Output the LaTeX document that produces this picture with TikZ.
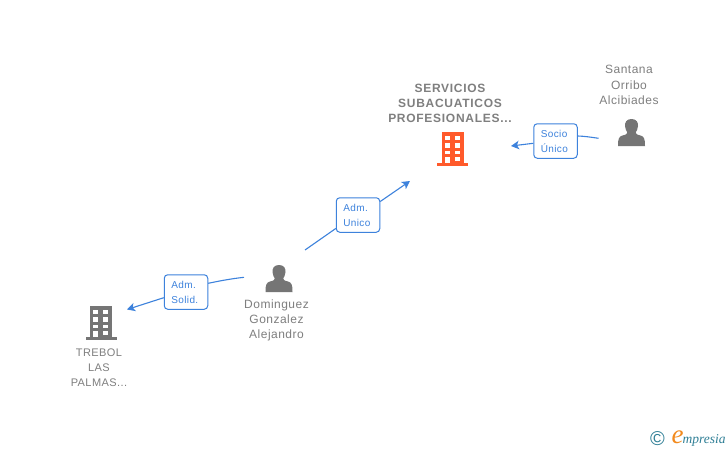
\documentclass[tikz,border=0pt]{standalone}
\usepackage{fontspec}
\setmainfont{Liberation Sans}
\newfontfamily\boldspaced[LetterSpace=6]{Liberation Sans}
\newfontfamily\spaced[LetterSpace=4]{Liberation Sans}
\newfontfamily\logofont{Liberation Serif}
\usetikzlibrary{arrows.meta}
\definecolor{linkblue}{HTML}{3D82DC}
\definecolor{icongrey}{HTML}{757575}
\definecolor{textgrey}{HTML}{7F7F7F}
\definecolor{hotorange}{HTML}{FF5A2B}
\definecolor{logoteal}{HTML}{2F7F96}
\definecolor{logoorange}{HTML}{F28A1E}
\tikzset{
  x=1pt,y=-1pt,
  conn/.style={draw=linkblue,line width=1.1pt},
  connarrow/.style={conn,-{Stealth[length=8pt,width=8.5pt,inset=2pt]}},
  rolebox/.style={draw=linkblue,line width=1pt,fill=white,rounded corners=3.5pt,minimum width=43.5pt,minimum height=34.5pt,inner sep=0pt,text=linkblue,font=\fontsize{10}{15}\spaced\selectfont,text width=29.5pt,align=left},
  nametext/.style={text=textgrey,font=\fontsize{12}{15.2}\spaced\selectfont,align=center,inner sep=0pt},
  boldtext/.style={text=textgrey,font=\fontsize{12}{15}\boldspaced\bfseries\selectfont,align=center,inner sep=0pt},
}
\newcommand{\buildingicon}[3]{%
  \begin{scope}[shift={(#1,#2)}]
    \fill[#3] (-11,-17) rectangle (11,14);
    \fill[#3] (-15.5,14) rectangle (15.5,17);
    \fill[white] (-8,-13.2) rectangle (-3,-8.8);
    \fill[white] (2,-13.2) rectangle (7,-8.8);
    \fill[white] (-8,-5.9) rectangle (-3,-1.5);
    \fill[white] (2,-5.9) rectangle (7,-1.5);
    \fill[white] (-8,1.5) rectangle (-3,5.3);
    \fill[white] (2,1.5) rectangle (7,5.3);
    \fill[white] (-8,8) rectangle (-3,14);
    \fill[white] (2,8) rectangle (7,12);
  \end{scope}}
\newcommand{\personicon}[2]{%
  \begin{scope}[shift={(#1,#2)}]
    \fill[icongrey] (0,-13.5) .. controls (-5,-13.5) and (-6.8,-10) .. (-6.5,-6.5)
      .. controls (-6.2,-3.5) and (-5.2,-1.5) .. (-4.2,0)
      .. controls (-4.2,1.5) and (-5.5,2.2) .. (-9,3)
      .. controls (-12.5,4) and (-13.5,6) .. (-13.5,13.5)
      -- (13.5,13.5)
      .. controls (13.5,6) and (12.5,4) .. (9,3)
      .. controls (5.5,2.2) and (4.2,1.5) .. (4.2,0)
      .. controls (5.2,-1.5) and (6.2,-3.5) .. (6.5,-6.5)
      .. controls (6.8,-10) and (5,-13.5) .. (0,-13.5) -- cycle;
  \end{scope}}
\begin{document}
\begin{tikzpicture}
\useasboundingbox (0,0) rectangle (728,450);
\fill[white] (0,0) rectangle (728,450);

% connector free ends
\coordinate (santanaEnd) at (598.5,138.3);
\coordinate (serviciosEnd) at (511,146);
\coordinate (domUpEnd) at (305,250);
\coordinate (serviciosEndB) at (410,181);
\coordinate (domLeftEnd) at (244,277.3);
\coordinate (trebolEnd) at (127,309.5);

% role boxes
\node[rolebox] (socio) at (555.5,141) {Socio\\Único};
\node[rolebox] (admunico) at (358,215) {Adm.\\Unico};
\node[rolebox] (admsolid) at (186,292) {Adm.\\Solid.};

% connectors
\draw[conn] (santanaEnd) .. controls (590,137) and (584,136.2) .. (socio.east |- 0,136);
\draw[connarrow] (socio.west |- 0,143.3) -- (serviciosEnd);
\draw[conn] (domUpEnd) -- (admunico.west |- 0,228.5);
\draw[connarrow] (admunico.east |- 0,201.5) -- (serviciosEndB);
\draw[conn] (domLeftEnd) .. controls (232,278.6) and (220,280.8) .. (admsolid.east |- 0,283.3);
\draw[connarrow] (admsolid.west |- 0,297.7) -- (trebolEnd);

% icons
\buildingicon{452.5}{149}{hotorange}
\buildingicon{101}{323}{icongrey}
\personicon{631.5}{132.5}
\personicon{279}{278.5}

% labels
\node[boldtext] (servicios) at (450,103) {SERVICIOS\\SUBACUATICOS\\PROFESIONALES...};
\node[nametext] (santana) at (629,85) {Santana\\Orribo\\Alcibiades};
\node[nametext] (dominguez) at (276.5,320.5) {Dominguez\\Gonzalez\\Alejandro};
\node[nametext,font=\fontsize{11}{15}\spaced\selectfont] (trebol) at (99,367.5) {TREBOL\\LAS\\PALMAS...};

% logo
\node[inner sep=0pt,text=logoteal,font=\fontsize{20}{20}\selectfont] (copyr) at (657.5,439) {©};
\node[inner sep=0pt,text=logoorange,font=\fontsize{27}{27}\logofont\itshape\selectfont] (logoe) at (677.5,437) {e};
\node[inner sep=0pt,anchor=west,text=logoteal,font=\fontsize{13.5}{14}\logofont\itshape\selectfont] (logotext) at (682.5,440) {mpresia};
\end{tikzpicture}
\end{document}
